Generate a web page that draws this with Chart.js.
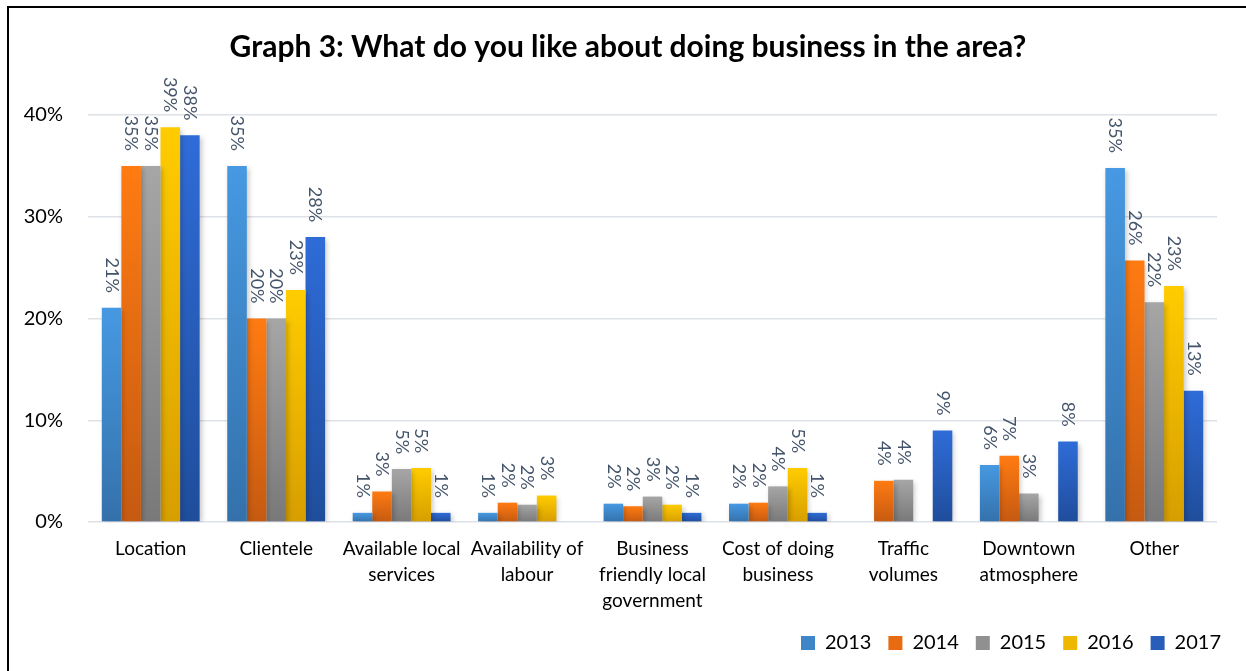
<!DOCTYPE html>
<html>
<head>
<meta charset="utf-8">
<script src="https://cdn.jsdelivr.net/npm/chart.js@4.4.1/dist/chart.umd.min.js"></script>
<style>
  html, body { margin: 0; padding: 0; background: #fff; overflow: hidden; }
  #wrap { position: relative; width: 1246px; height: 671px; }
  #frame { position: absolute; left: 7px; top: 6px; width: 1300px; height: 700px;
           border-left: 2px solid #000; border-top: 2px solid #000; pointer-events: none; }
  canvas { position: absolute; left: 0; top: 0; }
</style>
</head>
<body>
<div id="wrap">
  <canvas id="chart" width="1246" height="671"></canvas>
  <div id="frame"></div>
</div>
<script>
// Survey answers, share of respondents (%) per year
const categories = [
  ['Location'],
  ['Clientele'],
  ['Available local', 'services'],
  ['Availability of', 'labour'],
  ['Business', 'friendly local', 'government'],
  ['Cost of doing', 'business'],
  ['Traffic', 'volumes'],
  ['Downtown', 'atmosphere'],
  ['Other']
];
const years = ['2013', '2014', '2015', '2016', '2017'];
const v2013 = [21.05, 35.0, 0.9, 0.9, 1.8, 1.8, null, 5.6, 34.8];
const v2014 = [35.0, 20.0, 3.0, 1.9, 1.55, 1.9, 4.05, 6.5, 25.7];
const v2015 = [35.0, 20.0, 5.2, 1.7, 2.5, 3.5, 4.15, 2.8, 21.6];
const v2016 = [38.8, 22.8, 5.3, 2.6, 1.7, 5.3, null, null, 23.2];
const v2017 = [38.0, 28.0, 0.9, null, 0.9, 0.9, 9.0, 7.9, 12.9];
const yTicks = [0, 10, 20, 30, 40];

const seriesValues = [v2013, v2014, v2015, v2016, v2017];
// top / bottom / legend shade for each year
const shades = [
  ['#4699e2', '#3471ab', '#3f86c9'],
  ['#ff7b12', '#c55a11', '#e86b12'],
  ['#a6a6a6', '#797979', '#909090'],
  ['#ffcc00', '#d79e00', '#efb800'],
  ['#2f6cd8', '#1f4d9b', '#285dba']
];

function barGradient(top, bottom) {
  return (c) => {
    const chart = c.chart;
    const y = chart.scales && chart.scales.y;
    if (!y || c.type !== 'data' || c.raw == null) return top;
    const y0 = y.getPixelForValue(0);
    const y1 = y.getPixelForValue(c.raw);
    if (!isFinite(y0) || !isFinite(y1) || y0 === y1) return top;
    const g = chart.ctx.createLinearGradient(0, y1, 0, y0);
    g.addColorStop(0, top);
    g.addColorStop(1, bottom);
    return g;
  };
}

// soft drop shadow under the bars
const barShadow = {
  id: 'barShadow',
  beforeDatasetDraw(chart) {
    const ctx = chart.ctx;
    ctx.save();
    ctx.shadowColor = 'rgba(0,0,0,0.22)';
    ctx.shadowBlur = 5;
    ctx.shadowOffsetX = 2;
    ctx.shadowOffsetY = 2;
  },
  afterDatasetDraw(chart) {
    chart.ctx.restore();
  }
};

// rotated percentage labels above each bar
const barValueLabels = {
  id: 'barValueLabels',
  afterDatasetsDraw(chart) {
    const ctx = chart.ctx;
    ctx.save();
    ctx.font = '18px Lato';
    ctx.fillStyle = '#44546a';
    ctx.textAlign = 'right';
    ctx.textBaseline = 'middle';
    chart.data.datasets.forEach((ds, i) => {
      const meta = chart.getDatasetMeta(i);
      meta.data.forEach((bar, j) => {
        const v = ds.data[j];
        if (v == null) return;
        ctx.save();
        ctx.translate(bar.x, bar.y - 15);
        ctx.rotate(Math.PI / 2);
        ctx.fillText(Math.round(v) + '%', 0, 0);
        ctx.restore();
      });
    });
    ctx.restore();
  }
};

// title centred over the plot block, legend pushed to the right edge of the frame
const boxPlacement = {
  id: 'boxPlacement',
  afterLayout(chart) {
    if (chart.titleBlock) chart.titleBlock.left = chart.chartArea.left - 49;
    if (chart.legend) chart.legend.right = chart.width - 8;
  }
};

const datasets = years.map((yr, i) => ({
  label: yr,
  data: seriesValues[i],
  backgroundColor: barGradient(shades[i][0], shades[i][1]),
  borderWidth: 0,
  categoryPercentage: 0.78,
  barPercentage: 1.0
}));

new Chart(document.getElementById('chart'), {
  type: 'bar',
  data: { labels: categories, datasets },
  plugins: [barShadow, barValueLabels, boxPlacement],
  options: {
    responsive: false,
    animation: false,
    layout: { padding: { left: 8, right: 29, top: 0, bottom: 8 } },
    scales: {
      x: {
        grid: { display: false, drawTicks: false },
        border: { display: false },
        ticks: {
          color: '#000',
          font: { family: 'Lato', size: 19, lineHeight: 1.37 },
          padding: 14,
          maxRotation: 0,
          autoSkip: false
        },
        afterFit(scale) { scale.height = 94; }
      },
      y: {
        min: 0,
        max: 40,
        afterBuildTicks(scale) { scale.ticks = yTicks.map(v => ({ value: v })); },
        grid: { color: '#dde1e8', lineWidth: 1.5, drawTicks: false },
        border: { display: false },
        ticks: {
          color: '#000',
          font: { family: 'Lato', size: 20 },
          padding: 25,
          callback: (v) => v + '%'
        },
        afterFit(scale) { scale.width = 80; }
      }
    },
    plugins: {
      title: {
        display: true,
        text: 'Graph 3: What do you like about doing business in the area?',
        color: '#000',
        font: { family: 'Lato', size: 30, weight: 'bold' },
        padding: { top: 29, bottom: 50 }
      },
      legend: {
        position: 'bottom',
        align: 'end',
        labels: {
          color: '#000',
          font: { family: 'Lato', size: 20 },
          boxWidth: 14,
          boxHeight: 14,
          padding: 17,
          generateLabels: (chart) => chart.data.datasets.map((ds, i) => ({
            text: ds.label,
            fillStyle: shades[i][2],
            strokeStyle: 'rgba(0,0,0,0)',
            lineWidth: 0,
            datasetIndex: i
          }))
        }
      },
      tooltip: { enabled: false }
    }
  }
});
</script>
</body>
</html>
